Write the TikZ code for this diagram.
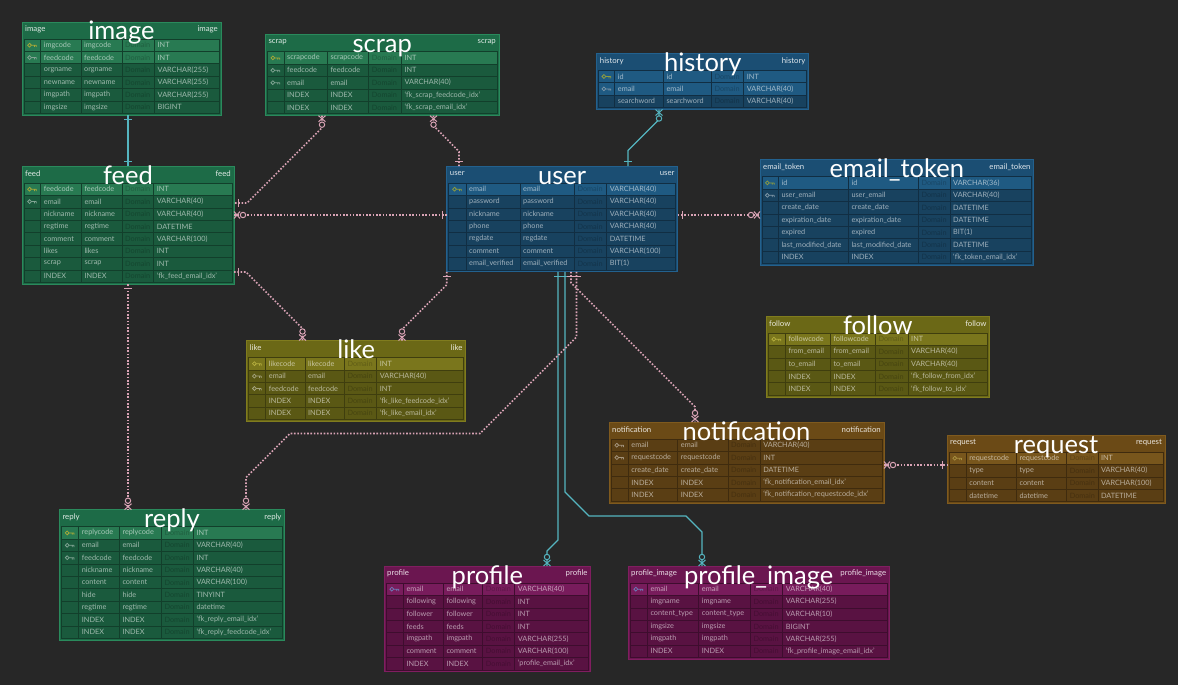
\documentclass[tikz,border=0pt]{standalone}
\usepackage{fontspec}
\setmainfont{Lato}
\usetikzlibrary{calc}
\definecolor{bgc}{HTML}{272727}
\definecolor{grnhd}{HTML}{1D6B47}\definecolor{grnrw}{HTML}{1A5A3D}\definecolor{grnpk}{HTML}{287A52}\definecolor{grnbd}{HTML}{2A8A5C}\definecolor{grnic}{HTML}{A9A938}
\definecolor{bluhd}{HTML}{1B4E73}\definecolor{blurw}{HTML}{18425F}\definecolor{blupk}{HTML}{1F5A82}\definecolor{blubd}{HTML}{23618E}\definecolor{bluic}{HTML}{8F9C3E}
\definecolor{olvhd}{HTML}{6B6816}\definecolor{olvrw}{HTML}{5A5814}\definecolor{olvpk}{HTML}{7A761C}\definecolor{olvbd}{HTML}{807C1E}\definecolor{olvic}{HTML}{B5AE3E}
\definecolor{brnhd}{HTML}{6B4A16}\definecolor{brnrw}{HTML}{5A3E14}\definecolor{brnpk}{HTML}{78561C}\definecolor{brnbd}{HTML}{7F5A1E}\definecolor{brnic}{HTML}{A89040}
\definecolor{maghd}{HTML}{6B1650}\definecolor{magrw}{HTML}{591242}\definecolor{magpk}{HTML}{781C5C}\definecolor{magbd}{HTML}{801E60}\definecolor{magic}{HTML}{6E7CB8}
\definecolor{pinkcol}{HTML}{D9A3B5}
\definecolor{tealcol}{HTML}{55B5C0}
\tikzset{
 tblbox/.style={draw=bd, fill=hd, line width=0.8pt, inner sep=0pt, outer sep=0pt},
 gridln/.style={draw=gl, line width=0.6pt},
 celltxt/.style={anchor=west, inner sep=0pt, font=\fontsize{7.3}{8}\selectfont, text=white, text opacity=0.58},
 domtxt/.style={anchor=west, inner sep=0pt, font=\fontsize{7.3}{8}\selectfont, text=black, text opacity=0.22},
 hdtxt/.style={inner sep=0pt, font=\fontsize{7.8}{9}\selectfont, text=white, text opacity=0.85},
 ttl/.style={anchor=base, inner sep=0pt, font=\fontsize{25.5}{28}\selectfont, text=white},
 pinkc/.style={draw=pinkcol, line width=1.6pt, dash pattern=on 1.6pt off 1.7pt},
 tealc/.style={draw=tealcol, line width=1.3pt},
 pics/onem/.style={code={\draw[line width=1.1pt] (4.5,-4) -- (4.5,4);}},
 pics/zmany/.style={code={\draw[line width=1pt] (0,-3.5) -- (6,3.5) (0,3.5) -- (6,-3.5); \draw[line width=1pt, fill=bgc] (9,0) circle[radius=2.7];}},
}
\def\ercols#1,#2,#3,#4\relax{\def\erca{#1}\def\ercb{#2}\def\ercc{#3}\def\ercd{#4}}
\newcommand\ertable[9]{%
  \colorlet{hd}{#2hd}\colorlet{lo}{#2rw}\colorlet{hi}{#2pk}\colorlet{bd}{#2bd}\colorlet{pk}{#2ic}%
  \colorlet{fk}{white!45!#2rw}\colorlet{gl}{#2rw!70!black}%
  \def\erL{#3}\def\erT{#4}\def\erR{#5}%
  \pgfmathsetmacro\erW{#5-#3}%
  \pgfmathsetmacro\erH{17+12.4*#6+2}%
  \node[tblbox, minimum width=\erW pt, minimum height=\erH pt, anchor=north west] (#1) at (#3,#4) {};%
  \ercols#7\relax
  \foreach \rs/\ic/\nm/\ty [count=\ri from 0] in {#9} {%
    \pgfmathsetmacro\erya{\erT+17+12.4*\ri}%
    \pgfmathsetmacro\eryb{\erya+12.4}%
    \pgfmathsetmacro\erym{\erya+6.2}%
    \pgfmathsetmacro\ericx{(\erL+2+\erca)/2}%
    \fill[fill=\rs] (\erL+2,\erya) rectangle (\erR-2,\eryb);
    \draw[gridln] (\erL+2,\erya) rectangle (\erR-2,\eryb);
    \draw[gridln] (\erca,\erya) -- (\erca,\eryb) (\ercb,\erya) -- (\ercb,\eryb) (\ercc,\erya) -- (\ercc,\eryb) (\ercd,\erya) -- (\ercd,\eryb);
    \draw[draw=\ic, line width=0.75pt] (\ericx-2.8,\erym) circle[radius=1.9] (\ericx-0.9,\erym) -- (\ericx+4,\erym) (\ericx+2.2,\erym) -- (\ericx+2.2,\erym+1.8) (\ericx+4,\erym) -- (\ericx+4,\erym+1.8);
    \node[celltxt] at (\erca+3,\erym) {\nm};
    \node[celltxt] at (\ercb+3,\erym) {\nm};
    \node[domtxt] at (\ercc+3,\erym) {Domain};
    \node[celltxt] at (\ercd+3,\erym) {\ty};
  }%
  \node[hdtxt, anchor=west] at (#3+3,#4+7.5) {#8};
  \node[hdtxt, anchor=east] at (#5-3,#4+7.5) {#8};
  \node[ttl] at ({(#3+#5)/2},#4+18) {#8};
}
\begin{document}
\begin{tikzpicture}[x=1pt,y=-1pt]
\fill[bgc] (0,0) rectangle (1178,685);
\useasboundingbox (0,0) rectangle (1178,685);

\ertable{image}{grn}{22}{22}{221}{6}{40.7,81,122,154.5}{image}{hi/pk/imgcode/INT, hi/fk/feedcode/INT, lo/none/orgname/VARCHAR(255), lo/none/newname/VARCHAR(255), lo/none/imgpath/VARCHAR(255), lo/none/imgsize/BIGINT}

\ertable{scrap}{grn}{265.3}{34.7}{499}{5}{284,327.3,368.7,401.3}{scrap}{hi/pk/scrapcode/INT, lo/fk/feedcode/INT, lo/fk/email/VARCHAR(40), lo/none/INDEX/`fk\_scrap\_feedcode\_idx', lo/none/INDEX/`fk\_scrap\_email\_idx'}

\ertable{history}{blu}{596.7}{53.3}{808.7}{3}{614.7,663.3,711.3,743.7}{history}{hi/pk/id/INT, hi/fk/email/VARCHAR(40), lo/none/searchword/VARCHAR(40)}

\ertable{feed}{grn}{22}{166}{234}{8}{40.7,81.3,122,153.7}{feed}{hi/pk/feedcode/INT, lo/fk/email/VARCHAR(40), lo/none/nickname/VARCHAR(40), lo/none/regtime/DATETIME, lo/none/comment/VARCHAR(100), lo/none/likes/INT, lo/none/scrap/INT, lo/none/INDEX/`fk\_feed\_email\_idx'}

\ertable{user}{blu}{446.7}{166}{677.7}{7}{466,520,574.3,606.7}{user}{hi/pk/email/VARCHAR(40), lo/none/password/VARCHAR(40), lo/none/nickname/VARCHAR(40), lo/none/phone/VARCHAR(40), lo/none/regdate/DATETIME, lo/none/comment/VARCHAR(100), lo/none/email\_verified/BIT(1)}

\ertable{etok}{blu}{760}{159.7}{1033.7}{7}{778.3,848.3,918.3,950}{email\_token}{hi/pk/id/VARCHAR(36), lo/fk/user\_email/VARCHAR(40), lo/none/create\_date/DATETIME, lo/none/expiration\_date/DATETIME, lo/none/expired/BIT(1), lo/none/last\_modified\_date/DATETIME, lo/none/INDEX/`fk\_token\_email\_idx'}

\ertable{like}{olv}{246.7}{340.5}{465.7}{5}{265.7,305,344.3,376.7}{like}{hi/pk/likecode/INT, lo/fk/email/VARCHAR(40), lo/fk/feedcode/INT, lo/none/INDEX/`fk\_like\_feedcode\_idx', lo/none/INDEX/`fk\_like\_email\_idx'}

\ertable{follow}{olv}{766}{316}{989.7}{5}{785.3,830.3,875.3,908}{follow}{hi/pk/followcode/INT, lo/none/from\_email/VARCHAR(40), lo/none/to\_email/VARCHAR(40), lo/none/INDEX/`fk\_follow\_from\_idx', lo/none/INDEX/`fk\_follow\_to\_idx'}

\ertable{notif}{brn}{609}{422}{884}{5}{628.2,677.7,727.9,760.1}{notification}{lo/fk/email/VARCHAR(40), lo/fk/requestcode/INT, lo/none/create\_date/DATETIME, lo/none/INDEX/`fk\_notification\_email\_idx', lo/none/INDEX/`fk\_notification\_requestcode\_idx'}

\ertable{request}{brn}{947}{435}{1165}{4}{966.2,1016.4,1066.6,1097.8}{request}{hi/pk/requestcode/INT, lo/none/type/VARCHAR(40), lo/none/content/VARCHAR(100), lo/none/datetime/DATETIME}

\ertable{reply}{grn}{59.3}{509.7}{284.7}{9}{78.7,119.3,161.3,193.3}{reply}{hi/pk/replycode/INT, lo/fk/email/VARCHAR(40), lo/fk/feedcode/INT, lo/none/nickname/VARCHAR(40), lo/none/content/VARCHAR(100), lo/none/hide/TINYINT, lo/none/regtime/datetime, lo/none/INDEX/`fk\_reply\_email\_idx', lo/none/INDEX/`fk\_reply\_feedcode\_idx'}

\ertable{profile}{mag}{384}{566}{590.7}{7}{403.3,443.3,482.7,514.7}{profile}{hi/pk/email/VARCHAR(40), lo/none/following/INT, lo/none/follower/INT, lo/none/feeds/INT, lo/none/imgpath/VARCHAR(255), lo/none/comment/VARCHAR(100), lo/none/INDEX/`profile\_email\_idx'}

\ertable{pimg}{mag}{628}{566}{889.3}{6}{647.3,698.7,750.3,782.7}{profile\_image}{hi/pk/email/VARCHAR(40), lo/none/imgname/VARCHAR(255), lo/none/content\_type/VARCHAR(10), lo/none/imgsize/BIGINT, lo/none/imgpath/VARCHAR(255), lo/none/INDEX/`fk\_profile\_image\_email\_idx'}

% connector end points
\coordinate (imgB) at ([xshift=106pt]image.south west);
\coordinate (feedT) at ([xshift=106pt]feed.north west);
\coordinate (feedB) at ([xshift=106pt]feed.south west);
\coordinate (feedR1) at ([yshift=-37pt]feed.north east);
\coordinate (feedR2) at ([yshift=-49pt]feed.north east);
\coordinate (feedR3) at ([yshift=-106pt]feed.north east);
\coordinate (scrB1) at ([xshift=56.7pt]scrap.south west);
\coordinate (scrB2) at ([xshift=168.2pt]scrap.south west);
\coordinate (usrT1) at ([xshift=12.3pt]user.north west);
\coordinate (usrT2) at ([xshift=181.3pt]user.north west);
\coordinate (usrL) at ([yshift=-49pt]user.north west);
\coordinate (usrR) at ([yshift=-49pt]user.north east);
\coordinate (usrB0) at (user.south west);
\coordinate (usrB1) at ([xshift=111.3pt]user.south west);
\coordinate (usrB2) at ([xshift=118.3pt]user.south west);
\coordinate (usrB3) at ([xshift=124.3pt]user.south west);
\coordinate (usrB4) at ([xshift=129.8pt]user.south west);
\coordinate (hisB) at ([xshift=62.3pt]history.south west);
\coordinate (etL) at ([yshift=-55.3pt]etok.north west);
\coordinate (likT1) at ([xshift=55.8pt]like.north west);
\coordinate (likT2) at ([xshift=155.3pt]like.north west);
\coordinate (notT) at ([xshift=86pt]notif.north west);
\coordinate (notR) at ([yshift=-43pt]notif.north east);
\coordinate (reqL) at ([yshift=-30pt]request.north west);
\coordinate (repT1) at ([xshift=68.7pt]reply.north west);
\coordinate (repT2) at ([xshift=186.7pt]reply.north west);
\coordinate (proT) at ([xshift=163pt]profile.north west);
\coordinate (priT) at ([xshift=74pt]pimg.north west);

% connectors
\draw[tealc] (imgB) -- (feedT);
\draw[pinkc] (scrB1) -- ++(0,12) -- (247,203) -- (feedR1);
\draw[pinkc] (scrB2) -- ++(0,10) -- (459,151.5) -- (usrT1);
\draw[pinkc] (feedR2) -- (usrL);
\draw[pinkc] (feedR3) -- ++(12,0) -- (302.5,328.5) -- (likT1);
\draw[pinkc] (usrB0) -- ++(0,13) -- (402,329.5) -- (likT2);
\draw[tealc] (hisB) -- ++(0,10) -- (628,150.5) -- (usrT2);
\draw[pinkc] (usrR) -- (etL);
\draw[tealc] (usrB1) -- (558,540) -- (547,551) -- (proT);
\draw[tealc] (usrB2) -- (565,492) -- (589,516) -- (686,516) -- (702,532) -- (priT);
\draw[pinkc] (usrB3) -- ++(0,11) -- (695,406.8) -- (notT);
\draw[pinkc] (usrB4) -- (576.5,337) -- (480,433.5) -- (290,433.5) -- (246,477.5) -- (repT2);
\draw[pinkc] (feedB) -- (repT1);
\draw[pinkc] (notR) -- (reqL);

% markers
\pic[rotate=-90,color=tealcol] at (imgB) {onem};
\pic[rotate=90,color=tealcol] at (feedT) {onem};
\pic[rotate=-90,color=pinkcol] at (scrB1) {zmany};
\pic[rotate=0,color=pinkcol] at (feedR1) {onem};
\pic[rotate=-90,color=pinkcol] at (scrB2) {zmany};
\pic[rotate=90,color=pinkcol] at (usrT1) {onem};
\pic[rotate=0,color=pinkcol] at (feedR2) {zmany};
\pic[rotate=180,color=pinkcol] at (usrL) {onem};
\pic[rotate=0,color=pinkcol] at (feedR3) {onem};
\pic[rotate=90,color=pinkcol] at (likT1) {zmany};
\pic[rotate=-90,color=pinkcol] at (usrB0) {onem};
\pic[rotate=90,color=pinkcol] at (likT2) {zmany};
\pic[rotate=-90,color=tealcol] at (hisB) {zmany};
\pic[rotate=90,color=tealcol] at (usrT2) {onem};
\pic[rotate=0,color=pinkcol] at (usrR) {onem};
\pic[rotate=180,color=pinkcol] at (etL) {zmany};
\pic[rotate=-90,color=tealcol] at (usrB1) {onem};
\pic[rotate=90,color=tealcol] at (proT) {zmany};
\pic[rotate=-90,color=tealcol] at (usrB2) {onem};
\pic[rotate=90,color=tealcol] at (priT) {zmany};
\pic[rotate=-90,color=pinkcol] at (usrB3) {onem};
\pic[rotate=90,color=pinkcol] at (notT) {zmany};
\pic[rotate=-90,color=pinkcol] at (usrB4) {onem};
\pic[rotate=90,color=pinkcol] at (repT2) {zmany};
\pic[rotate=-90,color=pinkcol] at (feedB) {onem};
\pic[rotate=90,color=pinkcol] at (repT1) {zmany};
\pic[rotate=0,color=pinkcol] at (notR) {zmany};
\pic[rotate=180,color=pinkcol] at (reqL) {onem};
\end{tikzpicture}
\end{document}
